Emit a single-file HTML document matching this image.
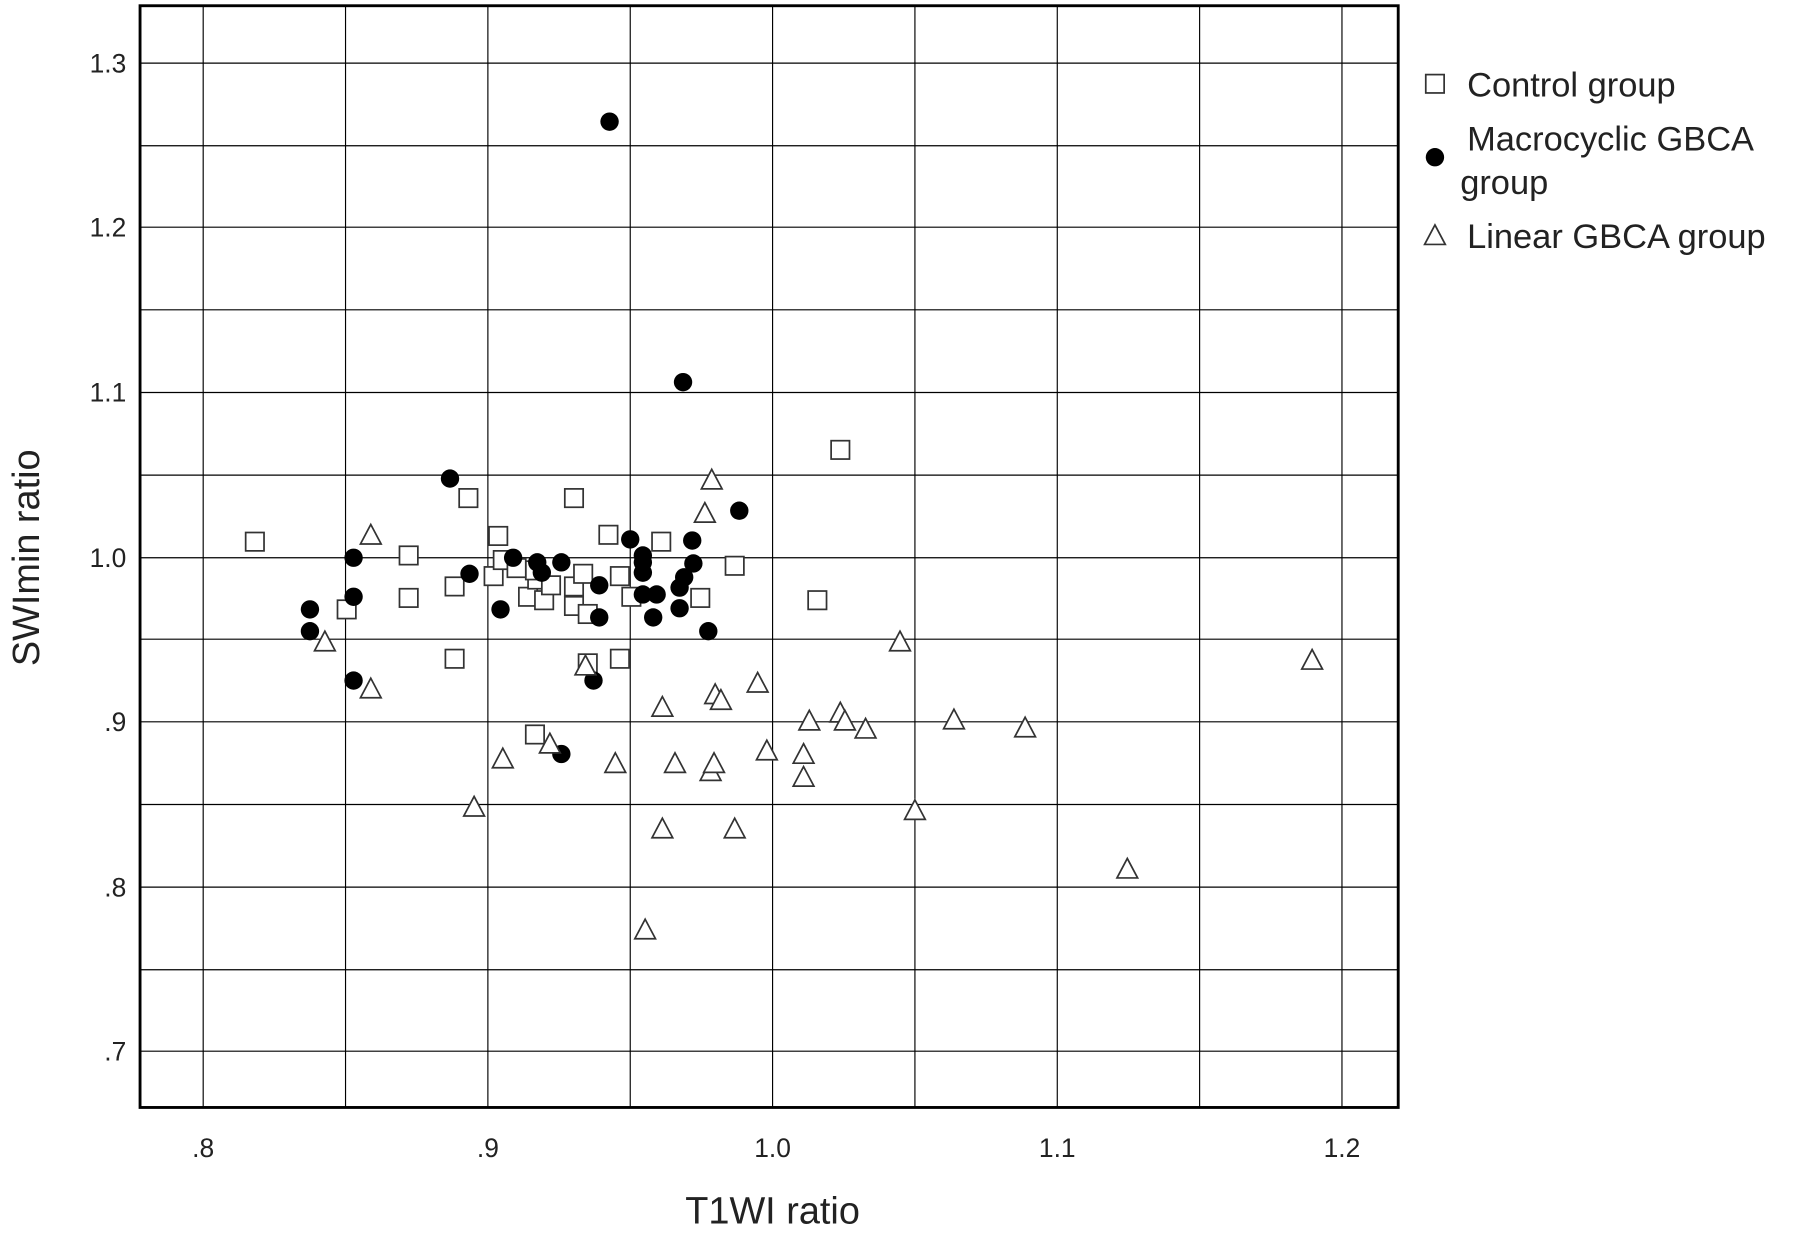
<!DOCTYPE html>
<html><head><meta charset="utf-8"><style>html,body{margin:0;padding:0;background:#fff}svg{display:block}</style></head>
<body>
<svg width="1800" height="1236" viewBox="0 0 1568 1077" preserveAspectRatio="none" xmlns="http://www.w3.org/2000/svg" font-family="Liberation Sans, sans-serif">
<rect width="1568" height="1077" fill="#fff"/>
<g stroke="#000" stroke-width="1">
<line x1="177" y1="5" x2="177" y2="965"/><line x1="301" y1="5" x2="301" y2="965"/><line x1="425" y1="5" x2="425" y2="965"/><line x1="549" y1="5" x2="549" y2="965"/><line x1="673" y1="5" x2="673" y2="965"/><line x1="797" y1="5" x2="797" y2="965"/><line x1="921" y1="5" x2="921" y2="965"/><line x1="1045" y1="5" x2="1045" y2="965"/><line x1="1169" y1="5" x2="1169" y2="965"/>
<line x1="122" y1="55" x2="1218" y2="55"/><line x1="122" y1="127" x2="1218" y2="127"/><line x1="122" y1="198" x2="1218" y2="198"/><line x1="122" y1="270" x2="1218" y2="270"/><line x1="122" y1="342" x2="1218" y2="342"/><line x1="122" y1="414" x2="1218" y2="414"/><line x1="122" y1="486" x2="1218" y2="486"/><line x1="122" y1="557" x2="1218" y2="557"/><line x1="122" y1="629" x2="1218" y2="629"/><line x1="122" y1="701" x2="1218" y2="701"/><line x1="122" y1="773" x2="1218" y2="773"/><line x1="122" y1="845" x2="1218" y2="845"/><line x1="122" y1="916" x2="1218" y2="916"/>
</g>
<rect x="122" y="5" width="1096" height="960" fill="none" stroke="#000" stroke-width="2.5"/>
<g font-size="23" text-anchor="end" fill="#222">
<text x="110" y="63">1.3</text><text x="110" y="206">1.2</text><text x="110" y="350">1.1</text><text x="110" y="494">1.0</text><text x="110" y="637">.9</text><text x="110" y="781">.8</text><text x="110" y="924">.7</text>
</g>
<g font-size="23" text-anchor="middle" fill="#222">
<text x="177" y="1008">.8</text><text x="425" y="1008">.9</text><text x="673" y="1008">1.0</text><text x="921" y="1008">1.1</text><text x="1169" y="1008">1.2</text>
</g>
<text x="673" y="1066" font-size="33" text-anchor="middle" fill="#222">T1WI ratio</text>
<text transform="translate(34,486) rotate(-90)" font-size="33" text-anchor="middle" fill="#222">SWImin ratio</text>
<g fill="#fff" stroke="#333" stroke-width="1.5" id="squares"></g>
<g fill="#000" id="circles"></g>
<g fill="#fff" stroke="#333" stroke-width="1.5" id="tris"></g>
<g font-size="30" fill="#222">
<rect x="1242" y="65" width="16" height="16" fill="#fff" stroke="#333" stroke-width="1.5"/>
<text x="1278" y="84">Control group</text>
<circle cx="1250" cy="137" r="8" fill="#000"/>
<text x="1278" y="131">Macrocyclic GBCA</text><text x="1272" y="169">group</text>
<polygon points="1250,196 1259,213 1241,213" fill="#fff" stroke="#333" stroke-width="1.5"/>
<text x="1278" y="216">Linear GBCA group</text>
</g>
<script>
var ns="http://www.w3.org/2000/svg";
var sq=[[222,472],[302,531],[356,484],[356,521],[396,511],[396,574],[408,434],[434,467],[430,502],[438,488],[460,520],[466,640],[468,505],[474,523],[480,510],[500,434],[500,511],[500,528],[508,500],[512,535],[512,578],[530,466],[540,574],[540,502],[550,520],[576,472],[610,521],[640,493],[712,523],[732,392],[466,497],[450,495]];
var ci=[[531,106],[595,333],[392,417],[644,445],[270,531],[270,550],[308,486],[308,520],[308,593],[409,500],[436,531],[447,486],[468,490],[472,499],[489,490],[522,510],[522,538],[517,593],[489,657],[549,470],[560,484],[560,499],[560,518],[572,518],[569,538],[592,512],[592,530],[603,471],[604,491],[617,550],[596,503],[560,490]];
var tr=[[620,418],[614,447],[323,466],[283,559],[323,600],[413,703],[438,661],[479,648],[510,580],[536,665],[562,810],[577,616],[577,722],[588,665],[619,672],[623,605],[628,610],[640,722],[660,595],[668,654],[700,657],[700,677],[705,628],[732,621],[736,628],[754,635],[784,559],[797,706],[831,627],[893,634],[982,757],[1143,575],[622,665]];
var g=document.getElementById("squares");
sq.forEach(function(p){var r=document.createElementNS(ns,"rect");r.setAttribute("x",p[0]-8);r.setAttribute("y",p[1]-8);r.setAttribute("width",16);r.setAttribute("height",16);g.appendChild(r);});
g=document.getElementById("circles");
ci.forEach(function(p){var c=document.createElementNS(ns,"circle");c.setAttribute("cx",p[0]);c.setAttribute("cy",p[1]);c.setAttribute("r",8);g.appendChild(c);});
g=document.getElementById("tris");
tr.forEach(function(p){var t=document.createElementNS(ns,"polygon");t.setAttribute("points",p[0]+","+(p[1]-9)+" "+(p[0]+9)+","+(p[1]+8)+" "+(p[0]-9)+","+(p[1]+8));g.appendChild(t);});
</script>
</svg>
</body></html>
